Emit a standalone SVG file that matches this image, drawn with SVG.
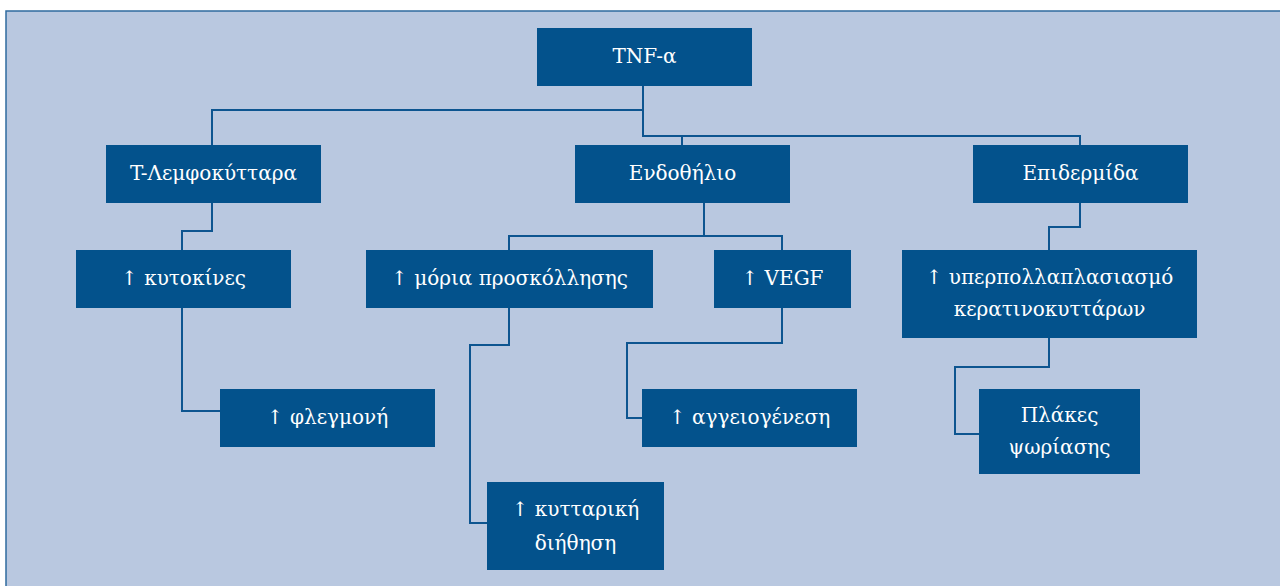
<svg xmlns="http://www.w3.org/2000/svg" width="1280" height="586" viewBox="0 0 1280 586">
<style>
.n{fill:#03528c}
.t{fill:#ffffff;font-family:"DejaVu Serif","Liberation Serif",serif;font-size:20px;text-anchor:middle;dominant-baseline:central}
.c{fill:none;stroke:#0d5590;stroke-width:2}
</style>
<rect x="0" y="0" width="1280" height="586" fill="#ffffff"/>
<rect x="6" y="11" width="1280" height="590" fill="#b9c8e0" stroke="#2f6b9f" stroke-width="1.5"/>
<g id="connectors">
<path class="c" d="M643 86 V136 H1080 V145"/>
<path class="c" d="M682 136 V145"/>
<path class="c" d="M643 110 H212 V145"/>
<path class="c" d="M212 203 V231 H182 V250"/>
<path class="c" d="M182 308 V411 H220"/>
<path class="c" d="M704 203 V236"/>
<path class="c" d="M509 250 V236 H782 V250"/>
<path class="c" d="M509 308 V345 H470 V523 H487"/>
<path class="c" d="M782 308 V343 H627 V418 H642"/>
<path class="c" d="M1080 202 V227 H1049 V250"/>
<path class="c" d="M1049 338 V367 H955 V434 H979"/>
</g>
<g id="tnf"><rect class="n" x="537" y="28" width="215" height="58"/><text class="t" x="644.5" y="56">TNF-α</text></g>
<g id="tlymph"><rect class="n" x="106" y="145" width="215" height="58"/><text class="t" x="213.5" y="173">T-Λεμφοκύτταρα</text></g>
<g id="endo"><rect class="n" x="575" y="145" width="215" height="58"/><text class="t" x="682.5" y="173">Ενδοθήλιο</text></g>
<g id="epid"><rect class="n" x="973" y="145" width="215" height="58"/><text class="t" x="1080.5" y="173">Επιδερμίδα</text></g>
<g id="cyto"><rect class="n" x="76" y="250" width="215" height="58"/><text class="t" x="183.5" y="278">↑ κυτοκίνες</text></g>
<g id="infl"><rect class="n" x="220" y="389" width="215" height="58"/><text class="t" x="327.5" y="417">↑ φλεγμονή</text></g>
<g id="adh"><rect class="n" x="366" y="250" width="287" height="58"/><text class="t" x="509.5" y="278">↑ μόρια προσκόλλησης</text></g>
<g id="vegf"><rect class="n" x="714" y="250" width="137" height="58"/><text class="t" x="782.5" y="278">↑ VEGF</text></g>
<g id="angio"><rect class="n" x="642" y="389" width="215" height="58"/><text class="t" x="749.5" y="417">↑ αγγειογένεση</text></g>
<g id="infiltr"><rect class="n" x="487" y="482" width="177" height="88"/><text class="t" x="575.5" y="509">↑ κυτταρική</text><text class="t" x="575.5" y="543">διήθηση</text></g>
<g id="hyper"><rect class="n" x="902" y="250" width="295" height="88"/><text class="t" x="1049.5" y="277">↑ υπερπολλαπλασιασμό</text><text class="t" x="1049.5" y="309">κερατινοκυττάρων</text></g>
<g id="plaques"><rect class="n" x="979" y="389" width="161" height="85"/><text class="t" x="1059.5" y="415">Πλάκες</text><text class="t" x="1059.5" y="447">ψωρίασης</text></g>
</svg>
